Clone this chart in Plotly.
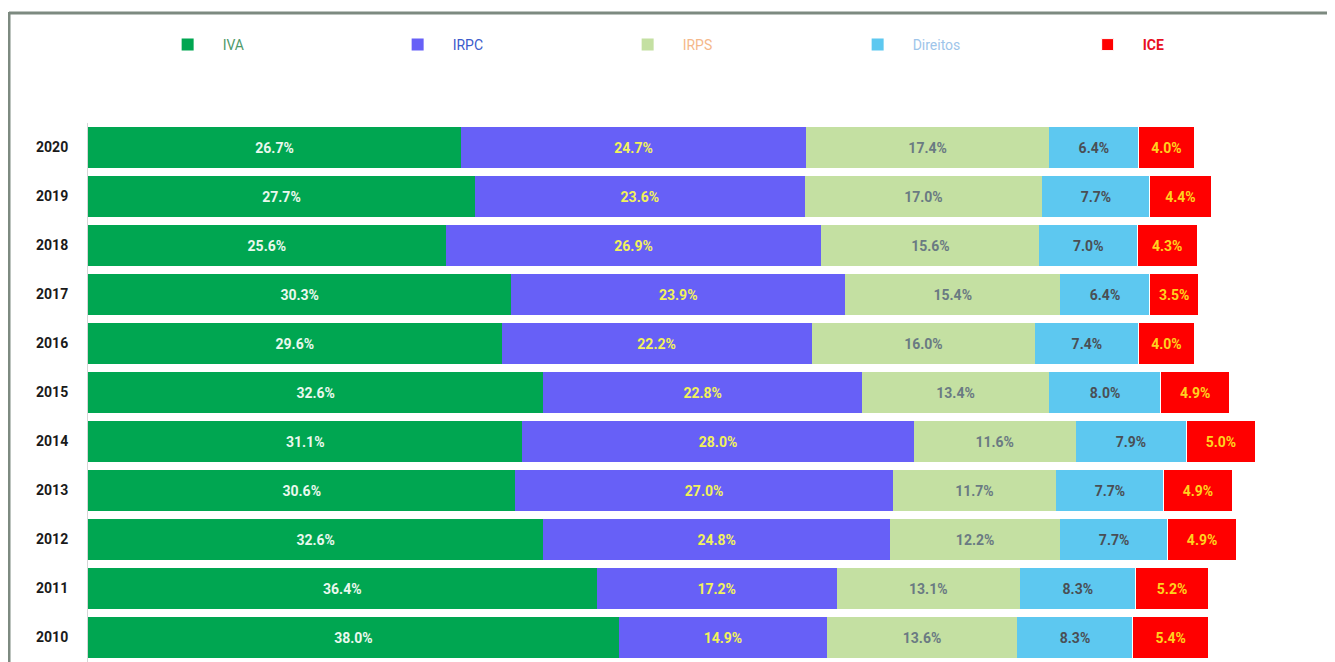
import plotly.graph_objects as go

years = ["2020", "2019", "2018", "2017", "2016", "2015", "2014", "2013", "2012", "2011", "2010"]
iva = [26.7, 27.7, 25.6, 30.3, 29.6, 32.6, 31.1, 30.6, 32.6, 36.4, 38.0]
irpc = [24.7, 23.6, 26.9, 23.9, 22.2, 22.8, 28.0, 27.0, 24.8, 17.2, 14.9]
irps = [17.4, 17.0, 15.6, 15.4, 16.0, 13.4, 11.6, 11.7, 12.2, 13.1, 13.6]
direitos = [6.4, 7.7, 7.0, 6.4, 7.4, 8.0, 7.9, 7.7, 7.7, 8.3, 8.3]
ice = [4.0, 4.4, 4.3, 3.5, 4.0, 4.9, 5.0, 4.9, 4.9, 5.2, 5.4]

series = [
    ("IVA", iva, "#00A651", "#EAF8EE", "#4F9A6A"),
    ("IRPC", irpc, "#6760F7", "#F2F25A", "#3B5BCC"),
    ("IRPS", irps, "#C4E0A2", "#6A7A82", "#F5B88A"),
    ("Direitos", direitos, "#5DC8F0", "#4A4F55", "#9EC5EA"),
    ("ICE", ice, "#FF0000", "#FFD21F", "#E8101F"),
]

FONT = "Roboto, Lato, sans-serif"

W, H = 1327, 654
L, T = 80, 115
PW, PH = W - L, H - T

fig = go.Figure()
for name, vals, col, tcol, lcol in series:
    label = f"<span style='color:{lcol}'>{name}</span>"
    if name == "ICE":
        label = f"<b><span style='color:{lcol}'>{name}</span></b>"
    fig.add_trace(go.Bar(
        y=years, x=vals, orientation="h", name=label,
        marker=dict(color=col, line=dict(color="white", width=1 if name == "ICE" else 0)),
        text=[f"{v:.1f}%" for v in vals],
        textposition="inside", insidetextanchor="middle",
        textfont=dict(family=FONT, size=14, color=tcol, weight="bold"),
        hoverinfo="skip",
    ))

fig.update_layout(
    width=W, height=H,
    barmode="stack", bargap=0.16,
    margin=dict(l=L, r=0, t=T, b=0),
    paper_bgcolor="white", plot_bgcolor="white",
    font=dict(family=FONT, size=14, color="#222"),
    showlegend=True,
    legend=dict(
        orientation="h", xref="container", yref="container",
        x=0.109, y=1 - 37 / H, xanchor="left", yanchor="middle",
        entrywidth=155, entrywidthmode="pixels", itemwidth=60,
        font=dict(family=FONT, size=14),
        traceorder="normal",
    ),
    xaxis=dict(range=[0, PW / 13.97], showgrid=False, zeroline=False, showticklabels=False, showline=False, fixedrange=True),
    yaxis=dict(autorange="reversed", showgrid=False, showline=True, linecolor="#D6D6D6", linewidth=1,
               tickfont=dict(family=FONT, size=14, color="#1A1A1A", weight="bold"),
               ticks="", ticklabelstandoff=16),
    shapes=[
        dict(type="line", xref="paper", yref="paper", x0=(1 - L) / PW, x1=1.0, y0=(H - 5) / PH, y1=(H - 5) / PH,
             line=dict(color="#7D8A80", width=3)),
        dict(type="line", xref="paper", yref="paper", x0=(1 - L) / PW, x1=(1 - L) / PW, y0=(H - 4) / PH, y1=-0.1,
             line=dict(color="#7D8A80", width=3)),
    ],
)

fig.write_html("out.html")
